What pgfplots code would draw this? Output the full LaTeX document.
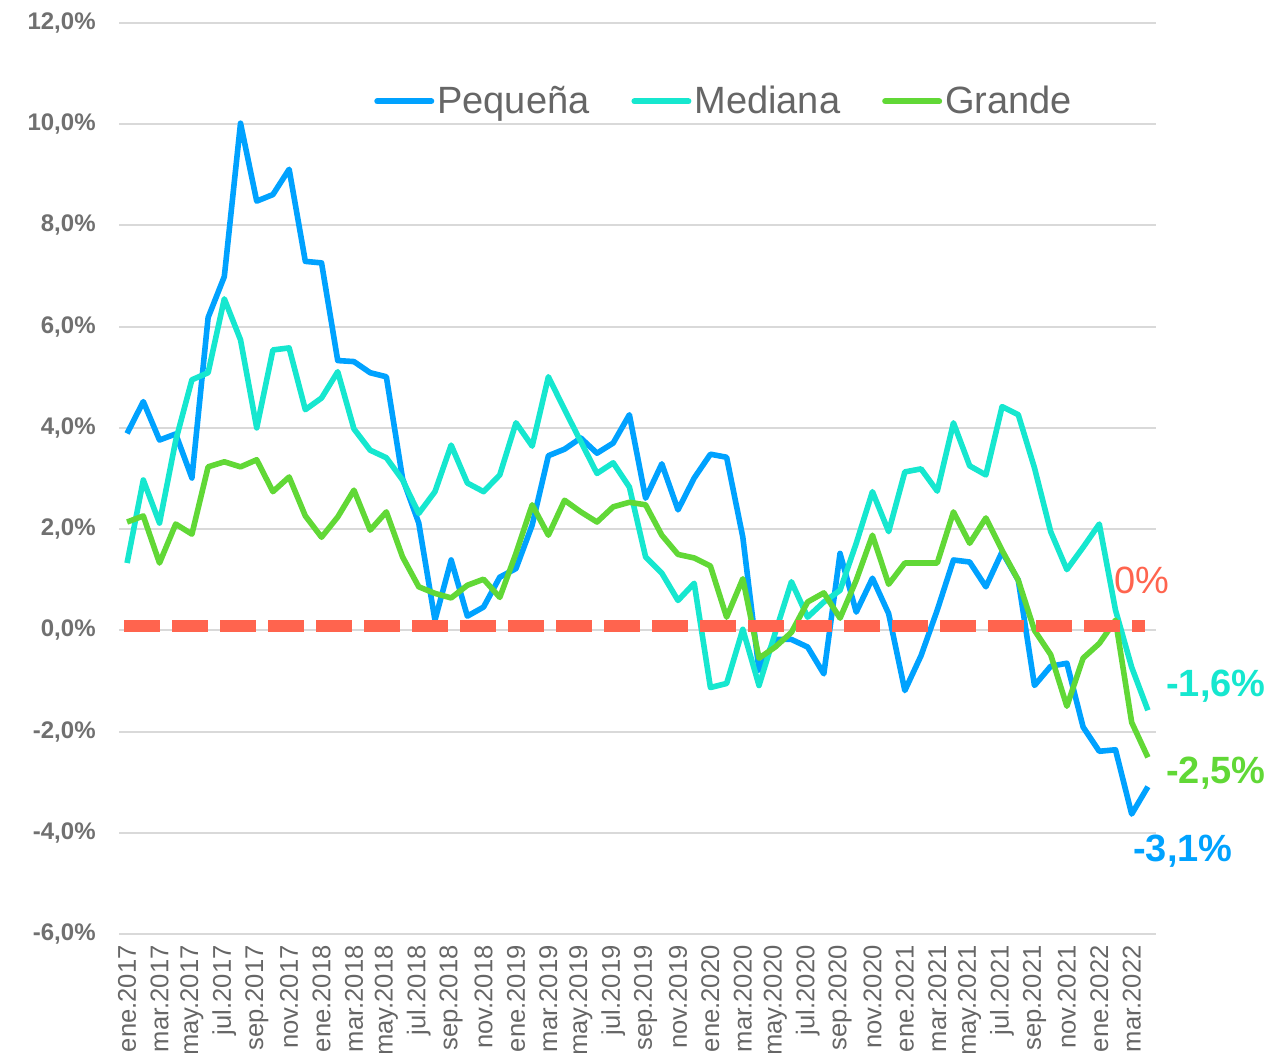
\documentclass[border=0pt]{standalone}
\usepackage{pgfplots}
\pgfplotsset{compat=1.18}
\usepackage{pgfplotstable}
\usepackage{fontspec}
\setmainfont{Liberation Sans}

\definecolor{cPeq}{HTML}{00A2FF}
\definecolor{cMed}{HTML}{16E7CF}
\definecolor{cGra}{HTML}{61D836}
\definecolor{cCero}{HTML}{FF644E}
\definecolor{cTxt}{HTML}{666666}
\definecolor{cTick}{HTML}{707070}
\definecolor{cGrid}{HTML}{D9D9D9}

% variacion interanual por tamano de empresa, ene.2017 - abr.2022
\pgfplotstableread{
i  peq    med    gra
0  3.89   1.33   2.14
1  4.52   2.97   2.26
2  3.76   2.12   1.33
3  3.88   3.75   2.10
4  3.01   4.95   1.90
5  6.18   5.09   3.23
6  6.99   6.55   3.33
7  10.02  5.74   3.23
8  8.48   4.00   3.37
9  8.61   5.54   2.74
10 9.11   5.58   3.03
11 7.29   4.36   2.26
12 7.26   4.59   1.84
13 5.33   5.11   2.24
14 5.31   3.98   2.77
15 5.09   3.56   1.98
16 5.01   3.41   2.34
17 3.00   2.97   1.45
18 2.12   2.31   0.86
19 0.20   2.74   0.73
20 1.39   3.66   0.64
21 0.28   2.91   0.89
22 0.46   2.74   1.01
23 1.05   3.07   0.65
24 1.22   4.10   1.52
25 2.08   3.64   2.48
26 3.45   5.01   1.88
27 3.58   4.36   2.57
28 3.80   3.73   2.34
29 3.50   3.10   2.14
30 3.70   3.31   2.44
31 4.26   2.83   2.53
32 2.61   1.45   2.48
33 3.29   1.13   1.88
34 2.38   0.59   1.50
35 3.01   0.93   1.43
36 3.48   -1.13  1.27
37 3.42   -1.05  0.26
38 1.84   0.02   1.02
39 -0.79  -1.09  -0.55
40 -0.18  -0.05  -0.33
41 -0.18  0.96   -0.04
42 -0.33  0.26   0.56
43 -0.86  0.56   0.74
44 1.52   0.79   0.24
45 0.36   1.72   0.99
46 1.03   2.74   1.88
47 0.33   1.95   0.91
48 -1.19  3.13   1.33
49 -0.50  3.19   1.33
50 0.40   2.75   1.33
51 1.39   4.10   2.34
52 1.35   3.25   1.72
53 0.86   3.07   2.22
54 1.55   4.42   1.58
55 0.99   4.26   0.99
56 -1.09  3.21   0.00
57 -0.71  1.95   -0.48
58 -0.65  1.20   -1.50
59 -1.91  1.64   -0.55
60 -2.39  2.10   -0.26
61 -2.36  0.40   0.20
62 -3.63  -0.73  -1.82
63 -3.09  -1.58  -2.51
}\datos

\begin{document}
\begin{tikzpicture}
\useasboundingbox (-59.5bp,-59.5bp) rectangle (576.5bp,467bp);
\begin{axis}[
  at={(0,0)}, anchor=south west,
  width=518.5bp, height=455.5bp, scale only axis,
  xmin=-0.5, xmax=63.5,
  ymin=-6, ymax=12,
  ytick={-6,-4,...,12},
  xtick={0,2,...,62},
  xticklabels={ene.2017,mar.2017,may.2017,jul.2017,sep.2017,nov.2017,
    ene.2018,mar.2018,may.2018,jul.2018,sep.2018,nov.2018,
    ene.2019,mar.2019,may.2019,jul.2019,sep.2019,nov.2019,
    ene.2020,mar.2020,may.2020,jul.2020,sep.2020,nov.2020,
    ene.2021,mar.2021,may.2021,jul.2021,sep.2021,nov.2021,
    ene.2022,mar.2022},
  ymajorgrids,
  grid style={cGrid, line width=1bp},
  axis line style={draw=none},
  major tick length=0pt,
  clip=false,
  /pgf/number format/assume math mode=true,
  yticklabel={\pgfmathprintnumber[fixed,fixed zerofill,precision=1,use comma]{\tick}\%},
  yticklabel style={font=\bfseries\fontsize{12bp}{13bp}\selectfont, text=cTick,
    anchor=east, inner sep=0pt, xshift=-11.5bp},
  xticklabel style={font=\fontsize{12.8bp}{14bp}\selectfont, text=cTxt,
    yshift=-5.5bp, rotate=90, anchor=east, inner sep=0pt},
  legend columns=-1,
  legend style={draw=none, fill=none, at={(0.584,0.914)}, anchor=center,
    font=\fontsize{19bp}{21bp}\selectfont, text=cTxt,
    nodes={inner xsep=1.5bp},
    /tikz/every even column/.append style={column sep=19.5bp}},
  legend image code/.code={\draw[#1, line width=3bp, line cap=round] (0bp,0bp) -- (27bp,0bp);},
  every axis plot/.append style={line width=2.8bp, line join=round},
]
\addplot[cPeq] table[x=i, y=peq] {\datos};
\addlegendentry{Pequeña}
\addplot[cMed] table[x=i, y=med] {\datos};
\addlegendentry{Mediana}
\addplot[cGra] table[x=i, y=gra] {\datos};
\addlegendentry{Grande}
\addplot[cCero, line width=6bp, dash pattern=on 18bp off 6bp, line join=miter, forget plot]
  coordinates {(-0.19,0.08) (62.8,0.08)};

\node[text=cCero, font=\fontsize{19bp}{21bp}\selectfont] at (axis cs:62.63,0.99) {0\%};
\node[text=cMed, font=\bfseries\fontsize{19bp}{21bp}\selectfont] at (axis cs:67.2,-1.11) {-1,6\%};
\node[text=cGra, font=\bfseries\fontsize{19bp}{21bp}\selectfont] at (axis cs:67.2,-2.83) {-2,5\%};
\node[text=cPeq, font=\bfseries\fontsize{19bp}{21bp}\selectfont] at (axis cs:65.16,-4.36) {-3,1\%};
\end{axis}
\end{tikzpicture}
\end{document}
